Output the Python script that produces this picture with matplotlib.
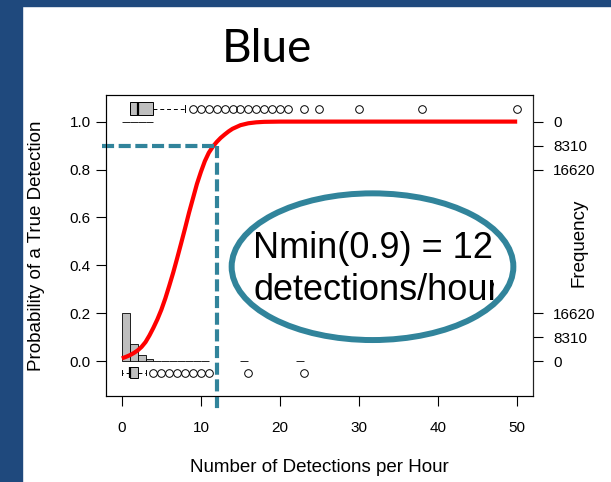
import matplotlib
matplotlib.use('Agg')
import matplotlib.pyplot as plt
from matplotlib.patches import Ellipse, Rectangle
from matplotlib.transforms import Bbox, TransformedBbox

plt.rcParams['font.family'] = ['Liberation Sans', 'DejaVu Sans']

# red fitted curve
curve_x = [0, 0.5, 1, 1.5, 2, 2.5, 3, 3.5, 4, 4.5, 5, 5.5, 6, 6.5, 7, 7.5, 8, 8.5, 9, 9.5,
           10, 10.5, 11, 11.5, 12, 12.5, 13, 13.5, 14, 15, 16, 17, 18, 20, 25, 50]
curve_p = [0.012, 0.018, 0.025, 0.034, 0.045, 0.06, 0.08, 0.108, 0.14, 0.175, 0.215, 0.262,
           0.315, 0.37, 0.43, 0.492, 0.555, 0.62, 0.68, 0.74, 0.79, 0.835, 0.87, 0.895,
           0.915, 0.932, 0.946, 0.959, 0.97, 0.985, 0.993, 0.997, 0.999, 1.0, 1.0, 1.0]

# histogram of false detections (drawn up from 0)
false_bins = [0, 1, 2, 3, 4, 5, 6, 7, 8, 9, 10, 15, 22]
false_counts = [16620, 6100, 2060, 790, 200, 60, 25, 12, 6, 3, 2, 1, 1]
# histogram of true detections (hanging down from 1)
true_bins = [0, 1, 2, 3]
true_counts = [180, 140, 40, 20]
freq_ticks = [0, 8310, 16620]
hist_max = 0.2  # probability height of the largest count

# boxplots
true_box = dict(med=2, q1=1, q3=4, whislo=1, whishi=8,
                fliers=[9, 10, 11, 12, 13, 14, 15, 16, 17, 18, 19, 20, 21, 23, 25, 30, 38, 50])
false_box = dict(med=1, q1=1, q3=2, whislo=0, whishi=3,
                 fliers=[4, 5, 6, 7, 8, 9, 10, 11, 16, 23])

nmin_x, nmin_p = 12, 0.9
teal = '#31849B'
grey = '#BEBEBE'

fig = plt.figure(figsize=(6.11, 4.82), dpi=100)
fig.patch.set_facecolor('white')
fig.patches.append(Rectangle((0, 0), 21.7 / 611, 1, transform=fig.transFigure,
                             color='#1F497D', zorder=-5))
fig.patches.append(Rectangle((0, 1 - 5.7 / 482), 1, 5.7 / 482, transform=fig.transFigure,
                             color='#1F497D', zorder=-5))

ax = fig.add_axes([106 / 611, 1 - 396 / 482, 427 / 611, 301 / 482])
ax.set_xlim(-2, 52)
ax.set_ylim(-0.145, 1.111)

scale = hist_max / max(false_counts)
ax.bar(false_bins, [c * scale for c in false_counts], width=1, align='edge', bottom=0,
       color=grey, edgecolor='black', linewidth=0.6, zorder=2)
ax.bar(true_bins, [-c * scale for c in true_counts], width=1, align='edge', bottom=1,
       color=grey, edgecolor='black', linewidth=0.6, zorder=2)

box_kw = dict(orientation='horizontal', patch_artist=True, manage_ticks=False,
              boxprops=dict(facecolor=grey, edgecolor='black', linewidth=0.7),
              medianprops=dict(color='black', linewidth=1.6),
              whiskerprops=dict(color='black', linewidth=0.7, linestyle=(0, (4, 3))),
              capprops=dict(color='black', linewidth=0.7),
              flierprops=dict(marker='o', markerfacecolor='none', markeredgecolor='black',
                              markersize=5.5, markeredgewidth=0.7))
ax.bxp([true_box], positions=[1.054], widths=[0.053], capwidths=[0.027], **box_kw)
ax.bxp([false_box], positions=[-0.047], widths=[0.046], capwidths=[0.023], **box_kw)

ax.plot(curve_x, curve_p, color='red', linewidth=3, zorder=4, solid_capstyle='butt',
        solid_joinstyle='round')

# Nmin guide lines
ax.plot([-2.45, nmin_x], [nmin_p, nmin_p], color=teal, linewidth=3,
        dashes=(2.9, 1.1), clip_on=False, zorder=5)
ax.plot([nmin_x, nmin_x], [nmin_p, -0.211], color=teal, linewidth=3,
        dashes=(2.9, 1.1), clip_on=False, zorder=5)

ax.set_xticks([0, 10, 20, 30, 40, 50])
ax.set_yticks([0.0, 0.2, 0.4, 0.6, 0.8, 1.0])
ax.set_yticklabels(['0.0', '0.2', '0.4', '0.6', '0.8', '1.0'])
ax.tick_params(axis='x', length=7, width=0.8, pad=11, labelsize=11)
ax.tick_params(axis='y', length=7, width=0.8, pad=4, labelsize=11)
for s in ax.spines.values():
    s.set_linewidth(0.8)
    s.set_color('#222222')

ax2 = ax.twinx()
ax2.set_ylim(ax.get_ylim())
pos = [c * scale for c in freq_ticks] + [1 - c * scale for c in freq_ticks]
labs = [str(c) for c in freq_ticks] * 2
ax2.set_yticks(pos)
ax2.set_yticklabels(labs)
ax2.tick_params(axis='y', length=7, width=0.8, pad=7.5, labelsize=11)
ax2.spines['right'].set_linewidth(0.8)
ax2.spines['right'].set_color('#222222')

ax.text(0.5, -0.2515, 'Number of Detections per Hour', transform=ax.transAxes,
        ha='center', va='baseline', fontsize=13.5)
ax.text(-0.152, 0.5, 'Probability of a True Detection', transform=ax.transAxes,
        rotation=90, rotation_mode='anchor', ha='center', va='baseline', fontsize=13.5)
ax.text(1.1194, 0.51, 'Frequency', transform=ax.transAxes,
        rotation=90, rotation_mode='anchor', ha='center', va='baseline', fontsize=13.5)

# slide title and callout
fig.text(267 / 611, 1 - 61.7 / 482, 'Blue', ha='center', va='baseline', fontsize=33,
         family=['Lato', 'DejaVu Sans'])

fig.patches.append(Ellipse((372.5 / 611, 1 - 266.7 / 482), 281.7 / 611, 146.7 / 482,
                           transform=fig.transFigure, facecolor='none', edgecolor=teal,
                           linewidth=4.3, zorder=6))
clip = TransformedBbox(Bbox([[0, 0], [494 / 611, 1]]), fig.transFigure)
for txt, yb in [('Nmin(0.9) = 12', 258.3), ('detections/hour', 300)]:
    t = fig.text(253.3 / 611, 1 - yb / 482, txt, ha='left', va='baseline', fontsize=26,
                 zorder=7)
    if txt.startswith('detections'):
        t.set_clip_on(True)
        t.set_clip_box(clip)

fig.savefig('out.png', dpi=100)
